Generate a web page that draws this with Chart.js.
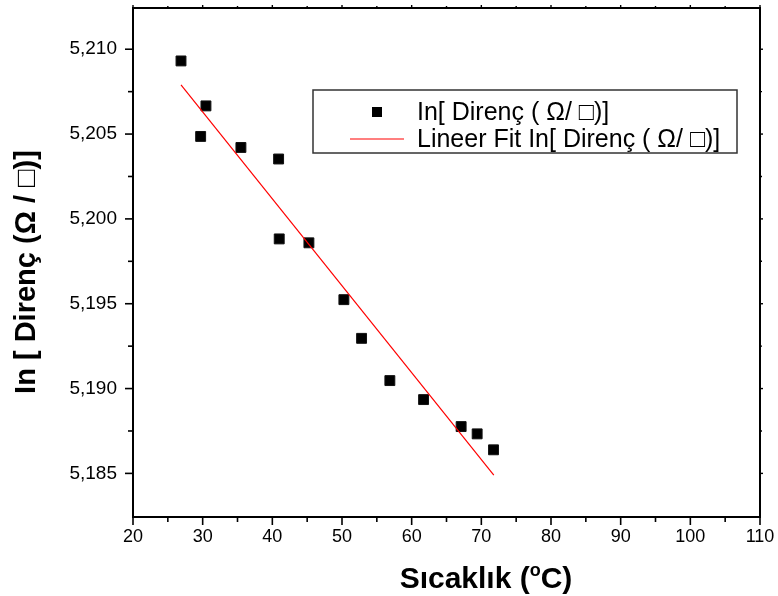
<!DOCTYPE html>
<html><head><meta charset="utf-8">
<script src="https://cdn.jsdelivr.net/npm/chart.js@4.4.1/dist/chart.umd.min.js"></script>
<style>html,body{margin:0;padding:0;background:#fff;}canvas{display:block;}</style>
</head><body>
<canvas id="c" width="778" height="596"></canvas>
<script>
// ---- data ----
const temperature = [26.89, 30.47, 29.71, 35.49, 40.90, 40.99, 45.25, 50.27, 52.81, 56.87, 61.71, 67.10, 69.40, 71.75];
const lnResistance = [5.20931, 5.20666, 5.20486, 5.20421, 5.20353, 5.19882, 5.19859, 5.19524, 5.19296, 5.19047, 5.18935, 5.18776, 5.18733, 5.18639];
const fitX = [26.89, 71.79];
const fitY = [5.20790, 5.18490];
const xTickValues = [20, 30, 40, 50, 60, 70, 80, 90, 100, 110];
const xMinorValues = [25, 35, 45, 55, 65, 75, 85, 95, 105];
const yTickValues = [5.185, 5.190, 5.195, 5.200, 5.205, 5.210];
const yMinorValues = [5.1825, 5.1875, 5.1925, 5.1975, 5.2025, 5.2075, 5.2125];
const seriesLabels = ['In[ Direnç ( Ω/ □)]', 'Lineer Fit In[ Direnç ( Ω/ □)]'];
const yTitle = 'In [ Direnç (Ω / □)]';
const xTitleParts = ['Sıcaklık (', 'o', 'C)'];

const FONT = '"Liberation Sans", Arial, Helvetica, sans-serif';

const framePlugin = {
  id: 'frameTicks',
  afterDraw(chart) {
    const ctx = chart.ctx, a = chart.chartArea, xs = chart.scales.x, ys = chart.scales.y;
    ctx.save();
    ctx.strokeStyle = '#000';
    const seg = (x1, y1, x2, y2, w) => { ctx.lineWidth = w; ctx.beginPath(); ctx.moveTo(x1, y1); ctx.lineTo(x2, y2); ctx.stroke(); };
    xTickValues.forEach(v => { const p = xs.getPixelForValue(v); seg(p, a.bottom, p, a.bottom + 8, 1.6); seg(p, a.top, p, a.top - 3, 1.4); });
    xMinorValues.forEach(v => { const p = xs.getPixelForValue(v); seg(p, a.bottom, p, a.bottom + 5, 1.6); seg(p, a.top, p, a.top - 2, 1.4); });
    yTickValues.forEach(v => { const p = ys.getPixelForValue(v); seg(a.left - 8, p, a.left, p, 1.6); seg(a.right, p, a.right + 3, p, 1.4); });
    yMinorValues.forEach(v => { const p = ys.getPixelForValue(v); if (p > a.top + 4 && p < a.bottom - 4) { seg(a.left - 5, p, a.left, p, 1.6); seg(a.right, p, a.right + 2, p, 1.4); } });
    ctx.lineWidth = 2;
    ctx.strokeRect(a.left, a.top, a.right - a.left, a.bottom - a.top);

    ctx.fillStyle = '#000';
    // y axis title
    ctx.save();
    ctx.translate(27, 272);
    ctx.rotate(-Math.PI / 2);
    ctx.font = 'bold 29px ' + FONT;
    ctx.textAlign = 'center'; ctx.textBaseline = 'middle';
    ctx.fillText(yTitle, 0, 0);
    ctx.restore();

    // x axis title with superscript
    ctx.textBaseline = 'alphabetic';
    const big = 'bold 30px ' + FONT, small = 'bold 18px ' + FONT;
    ctx.font = big; const w1 = ctx.measureText(xTitleParts[0]).width; const w3 = ctx.measureText(xTitleParts[2]).width;
    ctx.font = small; const w2 = ctx.measureText(xTitleParts[1]).width;
    const cx = 486, by = 588;
    let x = cx - (w1 + w2 + w3) / 2;
    ctx.textAlign = 'left';
    ctx.font = big; ctx.fillText(xTitleParts[0], x, by); x += w1;
    ctx.font = small; ctx.fillText(xTitleParts[1], x, by - 12); x += w2;
    ctx.font = big; ctx.fillText(xTitleParts[2], x, by);

    // legend box
    const lx = 313, ly = 90, lw = 424, lh = 63;
    ctx.lineWidth = 1.5; ctx.strokeStyle = '#333';
    ctx.strokeRect(lx, ly, lw, lh);
    ctx.font = '25px ' + FONT; ctx.textBaseline = 'middle'; ctx.fillStyle = '#000';
    ctx.fillRect(372, 107, 10, 10);
    ctx.fillText(chart.data.datasets[0].label, 417, 113);
    ctx.strokeStyle = '#ff0000'; ctx.lineWidth = 1.2;
    ctx.beginPath(); ctx.moveTo(350, 139); ctx.lineTo(404, 139); ctx.stroke();
    ctx.fillText(chart.data.datasets[1].label, 417, 140);
    ctx.restore();
  }
};

new Chart(document.getElementById('c'), {
  type: 'scatter',
  data: {
    datasets: [
      {
        label: seriesLabels[0],
        data: temperature.map((t, i) => ({ x: t, y: lnResistance[i] })),
        pointStyle: 'rect', pointRadius: 7, pointHoverRadius: 7,
        backgroundColor: '#000', borderColor: '#111', borderWidth: 1,
        order: 2
      },
      {
        label: seriesLabels[1],
        type: 'line',
        data: fitX.map((t, i) => ({ x: t, y: fitY[i] })),
        borderColor: '#ff0000', borderWidth: 1.2, pointRadius: 0, fill: false, tension: 0,
        order: 1
      }
    ]
  },
  options: {
    responsive: false, animation: false, devicePixelRatio: 1,
    layout: { padding: { top: 3, right: 18, left: 0, bottom: 0 } },
    plugins: { legend: { display: false }, tooltip: { enabled: false } },
    scales: {
      x: {
        type: 'linear', position: 'bottom', min: 20, max: 110,
        afterBuildTicks: s => { s.ticks = xTickValues.map(v => ({ value: v })); },
        ticks: { color: '#000', font: { family: FONT, size: 18 }, padding: 1, autoSkip: false, maxRotation: 0 },
        grid: { display: false, drawTicks: true, tickLength: 8 },
        border: { display: false },
        afterFit: s => { s.height = 79; s.paddingLeft = 0; s.paddingRight = 0; }
      },
      y: {
        type: 'linear', position: 'left', min: 5.18243, max: 5.21243,
        afterBuildTicks: s => { s.ticks = yTickValues.map(v => ({ value: v })); },
        ticks: { color: '#000', font: { family: FONT, size: 19 }, padding: 8,
          callback: v => Number(v).toFixed(3).replace('.', ',') },
        grid: { display: false, drawTicks: true, tickLength: 8 },
        border: { display: false },
        afterFit: s => { s.width = 133; s.paddingTop = 0; s.paddingBottom = 0; }
      }
    }
  },
  plugins: [framePlugin]
});
</script>
</body></html>
